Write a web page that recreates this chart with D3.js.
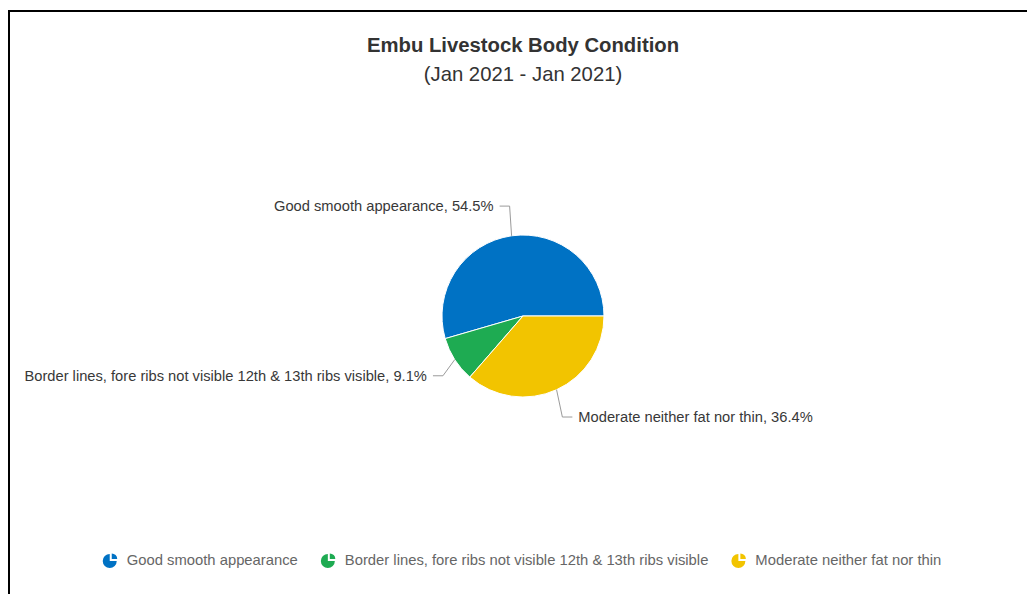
<!DOCTYPE html>
<html>
<head>
<meta charset="utf-8">
<script src="https://cdn.jsdelivr.net/npm/d3@7"></script>
<style>
  html, body { margin: 0; padding: 0; background: #fff; }
  svg { display: block; font-family: "Liberation Sans", Arial, Helvetica, sans-serif; }
</style>
</head>
<body>
<svg id="chart" width="1027" height="594"></svg>
<script>
// Body condition shares (percent of animals scored)
const categories = [
  "Good smooth appearance",
  "Border lines, fore ribs not visible 12th & 13th ribs visible",
  "Moderate neither fat nor thin"
];
const shares = [54.5, 9.1, 36.4];
const sliceColors = ["#0072c4", "#1eab52", "#f2c400"];

const chartTitle = "Embu Livestock Body Condition";
const chartSubtitle = "(Jan 2021 - Jan 2021)";

const W = 1027, H = 594;
const cx = 523, cy = 316, radius = 81;
const labelDistance = 30;

const svg = d3.select("#chart");

// frame edges
svg.append("line").attr("x1", 8).attr("x2", W).attr("y1", 11).attr("y2", 11)
  .attr("stroke", "#000").attr("stroke-width", 2);
svg.append("line").attr("x1", 9).attr("x2", 9).attr("y1", 10).attr("y2", H)
  .attr("stroke", "#000").attr("stroke-width", 2);

// titles
svg.append("text").attr("x", cx).attr("y", 52).attr("text-anchor", "middle")
  .attr("font-size", 20.3).attr("font-weight", "bold").attr("fill", "#333")
  .text(chartTitle);
svg.append("text").attr("x", cx).attr("y", 81).attr("text-anchor", "middle")
  .attr("font-size", 20.3).attr("fill", "#333")
  .text(chartSubtitle);

const rows = categories.map((c, i) => ({ name: c, value: shares[i], color: sliceColors[i] }));

// slices run counter-clockwise from 3 o'clock
const pie = d3.pie().sort(null).value(d => d.value)
  .startAngle(Math.PI / 2).endAngle(Math.PI / 2 - 2 * Math.PI);
const arcs = pie(rows);
const arc = d3.arc().innerRadius(0).outerRadius(radius);

const g = svg.append("g").attr("transform", `translate(${cx},${cy})`);
g.selectAll("path.slice").data(arcs).join("path")
  .attr("class", "slice")
  .attr("d", arc)
  .attr("fill", d => d.data.color)
  .attr("stroke", "#fff").attr("stroke-width", 1).attr("stroke-linejoin", "round");

// data labels with crooked connectors
const labels = svg.append("g");
arcs.forEach(d => {
  const mid = (d.startAngle + d.endAngle) / 2;
  const s = Math.sin(mid), c = Math.cos(mid);
  const side = s >= 0 ? 1 : -1;
  const ex = cx + radius * s, ey = cy - radius * c;
  const ly = cy - (radius + labelDistance) * c;
  const crookX = cx + (radius + 14) * s;
  const anchorX = crookX + side * 10;
  labels.append("path")
    .attr("d", d3.line()([[ex, ey], [crookX, ly], [anchorX, ly]]))
    .attr("fill", "none").attr("stroke", "#9a9a9a").attr("stroke-width", 1);
  labels.append("text")
    .attr("x", anchorX + side * 6).attr("y", ly).attr("dy", "0.35em")
    .attr("text-anchor", side > 0 ? "start" : "end")
    .attr("font-size", 14.7).attr("fill", "#383838")
    .text(`${d.data.name}, ${d.data.value}%`);
});

// legend: small pie glyph with one wedge pulled out, then the category name
const legend = svg.append("g");
const iconArcMain = d3.arc().innerRadius(0).outerRadius(7).startAngle(Math.PI / 2).endAngle(2 * Math.PI);
const iconArcPiece = d3.arc().innerRadius(0).outerRadius(5.5).startAngle(0).endAngle(Math.PI / 2);
const items = legend.selectAll("g.item").data(rows).join("g").attr("class", "item");
items.append("path").attr("d", iconArcMain()).attr("fill", d => d.color)
  .attr("transform", "translate(7,1)");
items.append("path").attr("d", iconArcPiece()).attr("fill", d => d.color)
  .attr("transform", "translate(9,-1)");
items.append("text").attr("x", 24).attr("y", 0).attr("dy", "0.35em")
  .attr("font-size", 14.8).attr("fill", "#666")
  .text(d => d.name);

const widths = [];
items.each(function () {
  widths.push(24 + d3.select(this).select("text").node().getComputedTextLength());
});
const gap = 23;
const total = d3.sum(widths) + gap * (widths.length - 1);
let x0 = cx - 1 - total / 2;
items.each(function (d, i) {
  d3.select(this).attr("transform", `translate(${x0},560)`);
  x0 += widths[i] + gap;
});
</script>
</body>
</html>
